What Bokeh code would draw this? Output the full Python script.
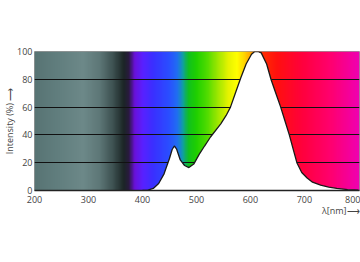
import numpy as np
from bokeh.plotting import figure
from bokeh.models import Range1d, FixedTicker, Title
from bokeh.embed import file_html
from bokeh.resources import INLINE

# Emission spectrum
wavelength = [400, 410, 420, 430, 440, 450, 455, 459, 463, 470, 478, 486, 495, 505,
              515, 526, 545, 555, 563, 572, 582, 592, 602, 608, 614, 620, 630, 638,
              647, 656, 664, 672, 679, 686, 695, 705, 715, 730, 745, 760, 780, 800]
intensity = [0, 0.3, 1.5, 5, 12, 23, 29.5, 32, 30, 22, 18, 16.5, 19, 26,
             32, 38.5, 48, 54, 60, 70, 81, 91, 98, 100, 100, 99, 91, 80,
             70, 60, 50, 40, 30, 20, 13, 9, 6, 3.8, 2.5, 1.5, 0.7, 0.2]

# Background spectrum colour stops
stop_nm = [200, 250, 290, 320, 345, 365, 375, 385, 400, 420, 450, 465, 475, 485,
           500, 520, 540, 560, 575, 590, 605, 620, 650, 700, 750, 800]
stop_col = ["#587474", "#638080", "#6d8989", "#5e7878", "#3e5252", "#1c2626",
            "#2a1a40", "#6a10d8", "#5a20ff", "#3a30ff", "#2a50ff", "#2070f0",
            "#10a0a0", "#10c020", "#20d000", "#50dc00", "#a0e800", "#e8f400",
            "#ffff00", "#ffd000", "#ff9000", "#ff3000", "#ff1010", "#ff0040",
            "#ff0070", "#f000b0"]

x_ticks = [200, 300, 400, 500, 600, 700, 800]
y_ticks = [0, 20, 40, 60, 80, 100]

FONT = "Open Sans"

p = figure(width=360, height=262, output_backend="svg", toolbar_location=None,
           x_range=Range1d(200, 802), y_range=Range1d(0, 100),
           min_border_left=34, min_border_right=1, min_border_top=51,
           min_border_bottom=72)
p.background_fill_color = "white"
p.border_fill_color = "white"
p.outline_line_color = "#999999"

# background gradient
grid_nm = np.arange(200, 803)
rgb = np.array([[int(c[i:i + 2], 16) for i in (1, 3, 5)] for c in stop_col], dtype=float)
chan = [np.interp(grid_nm, stop_nm, rgb[:, k]) for k in range(3)]
img = np.empty((1, len(grid_nm)), dtype=np.uint32)
view = img.view(dtype=np.uint8).reshape((1, len(grid_nm), 4))
view[0, :, 0] = chan[0].astype(np.uint8)
view[0, :, 1] = chan[1].astype(np.uint8)
view[0, :, 2] = chan[2].astype(np.uint8)
view[0, :, 3] = 255
r_img = p.image_rgba(image=[img], x=200, y=0, dw=602, dh=100)
r_img.level = "image"

# white area below the curve
p.varea(x=wavelength, y1=0, y2=intensity, fill_color="white")
p.line(x=wavelength, y=intensity, line_color="#1a1a1a", line_width=1.3)

p.xgrid.visible = False
p.ygrid.ticker = FixedTicker(ticks=[20, 40, 60, 80])
p.ygrid.grid_line_color = "#111111"
p.ygrid.grid_line_width = 1

p.xaxis.ticker = FixedTicker(ticks=x_ticks)
p.yaxis.ticker = FixedTicker(ticks=y_ticks)
for ax in (p.xaxis[0], p.yaxis[0]):
    ax.major_tick_line_color = None
    ax.minor_tick_line_color = None
    ax.major_tick_out = 0
    ax.major_tick_in = 0
    ax.minor_tick_out = 0
    ax.minor_tick_in = 0
    ax.major_label_text_font = FONT
    ax.major_label_text_font_size = "9px"
    ax.major_label_text_color = "#444444"
    ax.major_label_standoff = 2
p.xaxis.major_label_standoff = 5
p.xaxis.axis_line_color = "#222222"
p.xaxis.axis_line_width = 1.5
p.yaxis.axis_line_color = None

p.yaxis.axis_label = "Intensity (%) \u27f6"
p.yaxis.axis_label_text_font = FONT
p.yaxis.axis_label_text_font_size = "9px"
p.yaxis.axis_label_text_font_style = "normal"
p.yaxis.axis_label_text_color = "#444444"
p.yaxis.axis_label_standoff = -2

xl = Title(text="\u03bb[nm]\u27f6", align="right", text_font=FONT,
           text_font_size="9px", text_font_style="normal", text_color="#444444",
           standoff=-8, offset=0)
p.add_layout(xl, "below")

open("out.html", "w").write(file_html(p, INLINE))
